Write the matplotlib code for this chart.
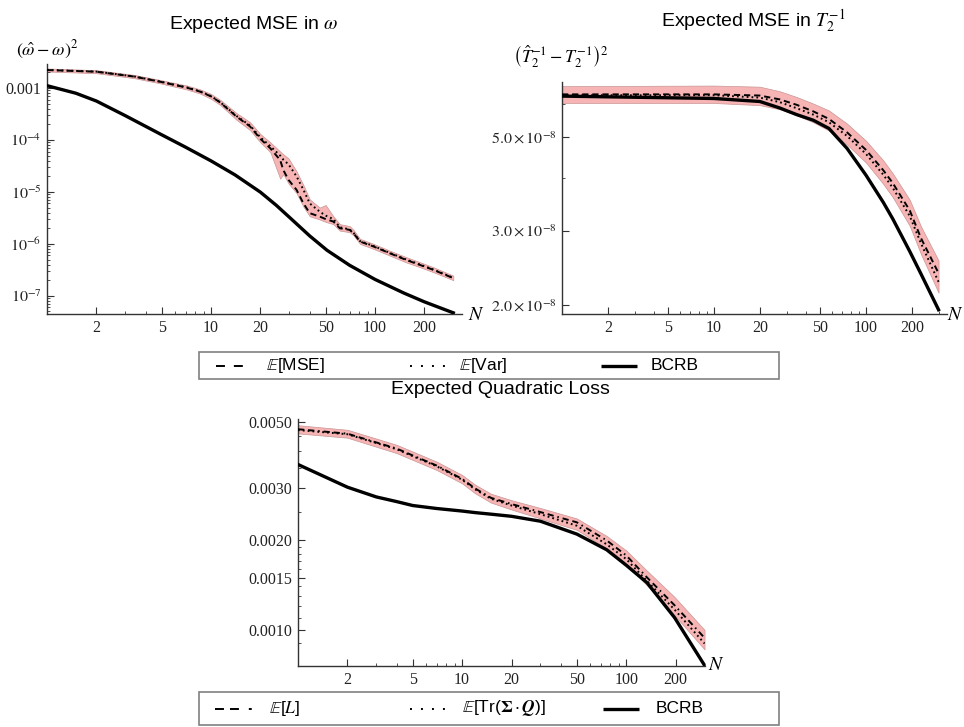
import matplotlib
matplotlib.use('Agg')
import matplotlib.pyplot as plt
from matplotlib.ticker import FixedLocator, FixedFormatter, NullFormatter
from matplotlib.lines import Line2D
from matplotlib.patches import Rectangle

plt.rcParams['mathtext.fontset'] = 'stix'
plt.rcParams['font.family'] = ['Liberation Sans', 'DejaVu Sans']

# ---------------- data: Expected MSE in omega ----------------
N_w = [1, 2, 3.4, 4.9, 7.1, 8.6, 10, 11.4, 14.3, 17.3, 20, 23, 26.4, 27.6, 29.7, 33.2,
       36.6, 40, 46, 50, 55.7, 61, 70, 74, 81, 98, 123, 155, 186, 227, 300]
mse_w = [2.22e-3, 2.06e-3, 1.66e-3, 1.32e-3, 1.02e-3, 8.5e-4, 6.9e-4, 5.25e-4, 2.82e-4, 1.82e-4,
         1.05e-4, 6.9e-5, 4.1e-5, 2.63e-5, 1.70e-5, 1.10e-5, 6.0e-6, 3.9e-6, 3.35e-6, 3.0e-6,
         2.69e-6, 2.0e-6, 1.86e-6, 1.60e-6, 1.11e-6, 8.9e-7, 6.6e-7, 4.9e-7, 3.98e-7, 3.16e-7, 2.19e-7]
var_w = [2.23e-3, 2.07e-3, 1.67e-3, 1.33e-3, 1.03e-3, 8.6e-4, 7.0e-4, 5.3e-4, 2.9e-4, 1.9e-4,
         1.12e-4, 7.6e-5, 5.0e-5, 4.17e-5, 3.39e-5, 2.0e-5, 1.1e-5, 6.0e-6, 4.17e-6, 3.5e-6,
         3.0e-6, 2.09e-6, 1.90e-6, 1.62e-6, 1.13e-6, 9.1e-7, 6.7e-7, 5.0e-7, 4.05e-7, 3.2e-7, 2.22e-7]
lo_w = [2.08e-3, 1.93e-3, 1.55e-3, 1.23e-3, 0.94e-3, 7.8e-4, 6.2e-4, 4.7e-4, 2.45e-4, 1.55e-4,
        0.9e-4, 5.8e-5, 1.8e-5, 2.2e-5, 1.45e-5, 0.95e-5, 5.2e-6, 3.4e-6, 2.95e-6, 2.65e-6,
        2.4e-6, 1.8e-6, 1.68e-6, 1.45e-6, 1.0e-6, 8.0e-7, 5.95e-7, 4.4e-7, 3.6e-7, 2.85e-7, 2.0e-7]
hi_w = [2.38e-3, 2.21e-3, 1.79e-3, 1.43e-3, 1.12e-3, 9.4e-4, 7.7e-4, 5.9e-4, 3.3e-4, 2.2e-4,
        1.3e-4, 9.0e-5, 6.0e-5, 5.3e-5, 4.4e-5, 2.5e-5, 1.35e-5, 7.2e-6, 5.0e-6, 5.6e-6,
        3.4e-6, 2.4e-6, 2.2e-6, 1.85e-6, 1.25e-6, 1.0e-6, 7.4e-7, 5.55e-7, 4.5e-7, 3.55e-7, 2.45e-7]
N_wb = [1, 1.5, 2, 3, 5, 7, 10, 14, 20, 25, 30, 40, 51, 70, 100, 150, 200, 300]
bcrb_w = [1.11e-3, 7.94e-4, 5.62e-4, 2.94e-4, 1.26e-4, 7.26e-5, 3.96e-5, 2.13e-5, 9.9e-6, 5.53e-6,
          3.27e-6, 1.42e-6, 7.52e-7, 3.87e-7, 2.07e-7, 1.13e-7, 7.66e-8, 4.71e-8]

# ---------------- data: Expected MSE in T2^-1 ----------------
N_t = [1, 10, 20, 27, 35, 45, 57, 75, 100, 130, 150, 194, 230, 300]
mse_t = [6.31e-8, 6.31e-8, 6.27e-8, 6.14e-8, 5.96e-8, 5.75e-8, 5.52e-8, 5.13e-8, 4.66e-8, 4.17e-8,
         3.89e-8, 3.35e-8, 2.88e-8, 2.38e-8]
var_t = [6.28e-8, 6.28e-8, 6.20e-8, 6.05e-8, 5.85e-8, 5.65e-8, 5.42e-8, 5.03e-8, 4.56e-8, 4.07e-8,
         3.79e-8, 3.25e-8, 2.80e-8, 2.27e-8]
bcrb_t = [6.25e-8, 6.17e-8, 6.07e-8, 5.86e-8, 5.65e-8, 5.48e-8, 5.24e-8, 4.70e-8, 4.06e-8, 3.50e-8,
          3.20e-8, 2.68e-8, 2.37e-8, 1.95e-8]
lo_t = [6.02e-8, 6.02e-8, 5.95e-8, 5.82e-8, 5.63e-8, 5.42e-8, 5.18e-8, 4.80e-8, 4.35e-8, 3.87e-8,
        3.60e-8, 3.08e-8, 2.64e-8, 2.14e-8]
hi_t = [6.60e-8, 6.62e-8, 6.58e-8, 6.42e-8, 6.22e-8, 6.00e-8, 5.78e-8, 5.38e-8, 4.90e-8, 4.40e-8,
        4.10e-8, 3.55e-8, 3.07e-8, 2.55e-8]

# ---------------- data: Expected Quadratic Loss ----------------
N_q = [1, 2, 3, 4, 5, 7, 10, 12, 15, 20, 30, 50, 76, 100, 134, 197, 300]
loss_q = [4.73e-3, 4.57e-3, 4.27e-3, 4.07e-3, 3.86e-3, 3.57e-3, 3.22e-3, 2.99e-3, 2.78e-3, 2.65e-3,
          2.49e-3, 2.30e-3, 2.00e-3, 1.78e-3, 1.50e-3, 1.21e-3, 9.4e-4]
tr_q = [4.70e-3, 4.55e-3, 4.25e-3, 4.05e-3, 3.84e-3, 3.55e-3, 3.20e-3, 2.97e-3, 2.76e-3, 2.62e-3,
        2.45e-3, 2.24e-3, 1.94e-3, 1.73e-3, 1.46e-3, 1.17e-3, 9.0e-4]
bcrb_q = [3.6e-3, 3.02e-3, 2.8e-3, 2.70e-3, 2.62e-3, 2.56e-3, 2.51e-3, 2.48e-3, 2.45e-3, 2.41e-3,
          2.32e-3, 2.10e-3, 1.86e-3, 1.65e-3, 1.44e-3, 1.10e-3, 7.6e-4]
lo_q = [4.58e-3, 4.43e-3, 4.13e-3, 3.93e-3, 3.73e-3, 3.45e-3, 3.11e-3, 2.88e-3, 2.68e-3, 2.54e-3,
        2.37e-3, 2.17e-3, 1.88e-3, 1.67e-3, 1.41e-3, 1.12e-3, 8.6e-4]
hi_q = [4.88e-3, 4.71e-3, 4.40e-3, 4.19e-3, 3.98e-3, 3.68e-3, 3.32e-3, 3.08e-3, 2.87e-3, 2.73e-3,
        2.57e-3, 2.37e-3, 2.07e-3, 1.85e-3, 1.58e-3, 1.29e-3, 1.0e-3]

# ---------------- ticks ----------------
x_major = [2, 5, 10, 20, 50, 100, 200]
x_labels = ['2', '5', '10', '20', '50', '100', '200']
x_minor = [3, 4, 6, 7, 8, 9, 30, 40, 60, 70, 80, 90, 300]

yw_major = [1e-3, 1e-4, 1e-5, 1e-6, 1e-7]
yw_labels = ['0.001', r'$10^{-4}$', r'$10^{-5}$', r'$10^{-6}$', r'$10^{-7}$']
yw_minor = [m * 10.0 ** e for e in range(-8, -2) for m in range(2, 10)]

yt_major = [2e-8, 3e-8, 5e-8]
yt_labels = [r'$2.0\times10^{-8}$', r'$3.0\times10^{-8}$', r'$5.0\times10^{-8}$']
yt_minor = [4e-8, 6e-8]

yq_major = [1.0e-3, 1.5e-3, 2.0e-3, 3.0e-3, 5.0e-3]
yq_labels = ['0.0010', '0.0015', '0.0020', '0.0030', '0.0050']
yq_minor = [0.9e-3, 1.1e-3, 1.2e-3, 1.3e-3, 1.4e-3, 1.6e-3, 1.7e-3, 1.8e-3, 1.9e-3,
            2.5e-3, 3.5e-3, 4.0e-3, 4.5e-3]

W, H = 964, 727


def fx(x):
    return x / W


def fy(y):
    return 1 - y / H


fig = plt.figure(figsize=(9.64, 7.27), dpi=100)


def make_ax(left, top, right, bottom):
    return fig.add_axes([fx(left), fy(bottom), (right - left) / W, (bottom - top) / H])


BAND_FC = '#f7b4b4'
BAND_EC = '#c99595'
DASH = (0, (3.2, 2.0))
DASHDOT = (0, (3.2, 2.0, 3.2, 2.0, 0.8, 2.0))
DOT = (0, (0.9, 1.6))


def style(ax, xlim, ylim, ymaj, ylab, ymin):
    ax.set_xscale('log')
    ax.set_yscale('log')
    ax.set_xlim(*xlim)
    ax.set_ylim(*ylim)
    for s in ['top', 'right']:
        ax.spines[s].set_visible(False)
    for s in ['left', 'bottom']:
        ax.spines[s].set_linewidth(1.0)
        ax.spines[s].set_color('#333333')
    ax.xaxis.set_major_locator(FixedLocator(x_major))
    ax.xaxis.set_major_formatter(FixedFormatter(x_labels))
    ax.xaxis.set_minor_locator(FixedLocator(x_minor))
    ax.xaxis.set_minor_formatter(NullFormatter())
    ax.yaxis.set_major_locator(FixedLocator(ymaj))
    ax.yaxis.set_major_formatter(FixedFormatter(ylab))
    ax.yaxis.set_minor_locator(FixedLocator(ymin))
    ax.yaxis.set_minor_formatter(NullFormatter())
    ax.tick_params(which='major', direction='in', length=5, width=0.8, labelsize=11.5,
                   pad=4, colors='#333333', labelcolor='#222222',
                   labelfontfamily='Liberation Serif')
    ax.tick_params(which='minor', direction='in', length=2.5, width=0.6, colors='#333333')
    ax.patch.set_alpha(0)


# ---- top-left ----
ax1 = make_ax(47, 64, 462, 314)
style(ax1, (1, 339), (4.47e-8, 2.9e-3), yw_major, yw_labels, yw_minor)
ax1.fill_between(N_w, lo_w, hi_w, facecolor=BAND_FC, edgecolor=BAND_EC, lw=0.5, zorder=1)
ax1.plot(N_w, mse_w, color='k', lw=1.4, ls=DASH, zorder=3)
ax1.plot(N_w, var_w, color='k', lw=1.4, ls=DOT, zorder=3)
ax1.plot(N_wb, bcrb_w, color='k', lw=2.4, zorder=4)

# ---- top-right ----
ax2 = make_ax(562, 82, 947, 314)
style(ax2, (1, 341), (1.905e-8, 6.75e-8), yt_major, yt_labels, yt_minor)
ax2.fill_between(N_t, lo_t, hi_t, facecolor=BAND_FC, edgecolor=BAND_EC, lw=0.5, zorder=1)
ax2.plot(N_t, mse_t, color='k', lw=1.4, ls=DASH, zorder=3)
ax2.plot(N_t, var_t, color='k', lw=1.4, ls=DOT, zorder=3)
ax2.plot(N_t, bcrb_t, color='k', lw=2.4, zorder=4)

# ---- bottom ----
ax3 = make_ax(298, 419, 705, 666)
style(ax3, (1, 302), (7.56e-4, 5.12e-3), yq_major, yq_labels, yq_minor)
ax3.fill_between(N_q, lo_q, hi_q, facecolor=BAND_FC, edgecolor=BAND_EC, lw=0.5, zorder=1)
ax3.plot(N_q, loss_q, color='k', lw=1.4, ls=DASHDOT, zorder=3)
ax3.plot(N_q, tr_q, color='k', lw=1.4, ls=DOT, zorder=3)
ax3.plot(N_q, bcrb_q, color='k', lw=2.4, zorder=4)

# ---- titles and labels ----
fig.text(fx(254), fy(29), r'Expected MSE in $\omega$', ha='center', va='baseline', fontsize=14)
fig.text(fx(753), fy(27), r'Expected MSE in $T_2^{-1}$', ha='center', va='baseline', fontsize=14)
fig.text(fx(500), fy(394), 'Expected Quadratic Loss', ha='center', va='baseline', fontsize=14)

fig.text(fx(47), fy(50), r'$(\hat{\omega}-\omega)^2$', ha='center', va='center', fontsize=13)
fig.text(fx(561), fy(57), r'$\left(\hat{T}_2^{-1}-T_2^{-1}\right)^2$', ha='center', va='center',
         fontsize=13)

for (x, y) in [(476, 316), (955, 316), (716, 666)]:
    fig.text(fx(x), fy(y), r'$N$', ha='center', va='center', fontsize=14)


# ---- legends (drawn by hand to match the reference spacing) ----
LEG_DASH = (0, (4.6, 4.6))
LEG_DOT = (0, (1.0, 4.65))
LEG_DASHDOT = (0, (4.6, 3.1, 4.6, 5.1, 1.5, 5.0))


def draw_legend(top, bottom, items):
    fig.add_artist(Rectangle((fx(199), fy(bottom)), (779 - 199) / W, (bottom - top) / H,
                             transform=fig.transFigure, fill=False, edgecolor='#808080', lw=1.2))
    yc = (top + bottom) / 2
    for (x0, x1, tx, ls, lw, label) in items:
        fig.add_artist(Line2D([fx(x0), fx(x1)], [fy(yc), fy(yc)], transform=fig.transFigure,
                              color='k', lw=lw, ls=ls, solid_capstyle='butt', dash_capstyle='butt'))
        fig.text(fx(tx), fy(yc), label, ha='left', va='center', fontsize=12.5)


draw_legend(352, 379, [
    (216, 243, 266, LEG_DASH, 1.4, r'$\mathbb{E}$[MSE]'),
    (410, 445, 459, LEG_DOT, 1.4, r'$\mathbb{E}$[Var]'),
    (601, 637, 651, '-', 2.4, 'BCRB'),
])
draw_legend(692, 725, [
    (215, 253, 269, LEG_DASHDOT, 1.4, r'$\mathbb{E}$[$L$]'),
    (410, 445, 462, LEG_DOT, 1.4, r'$\mathbb{E}$[Tr($\mathbf{\Sigma}\cdot\mathbfit{Q}$)]'),
    (603, 639, 656, '-', 2.4, 'BCRB'),
])

fig.savefig('out.png', dpi=100)
